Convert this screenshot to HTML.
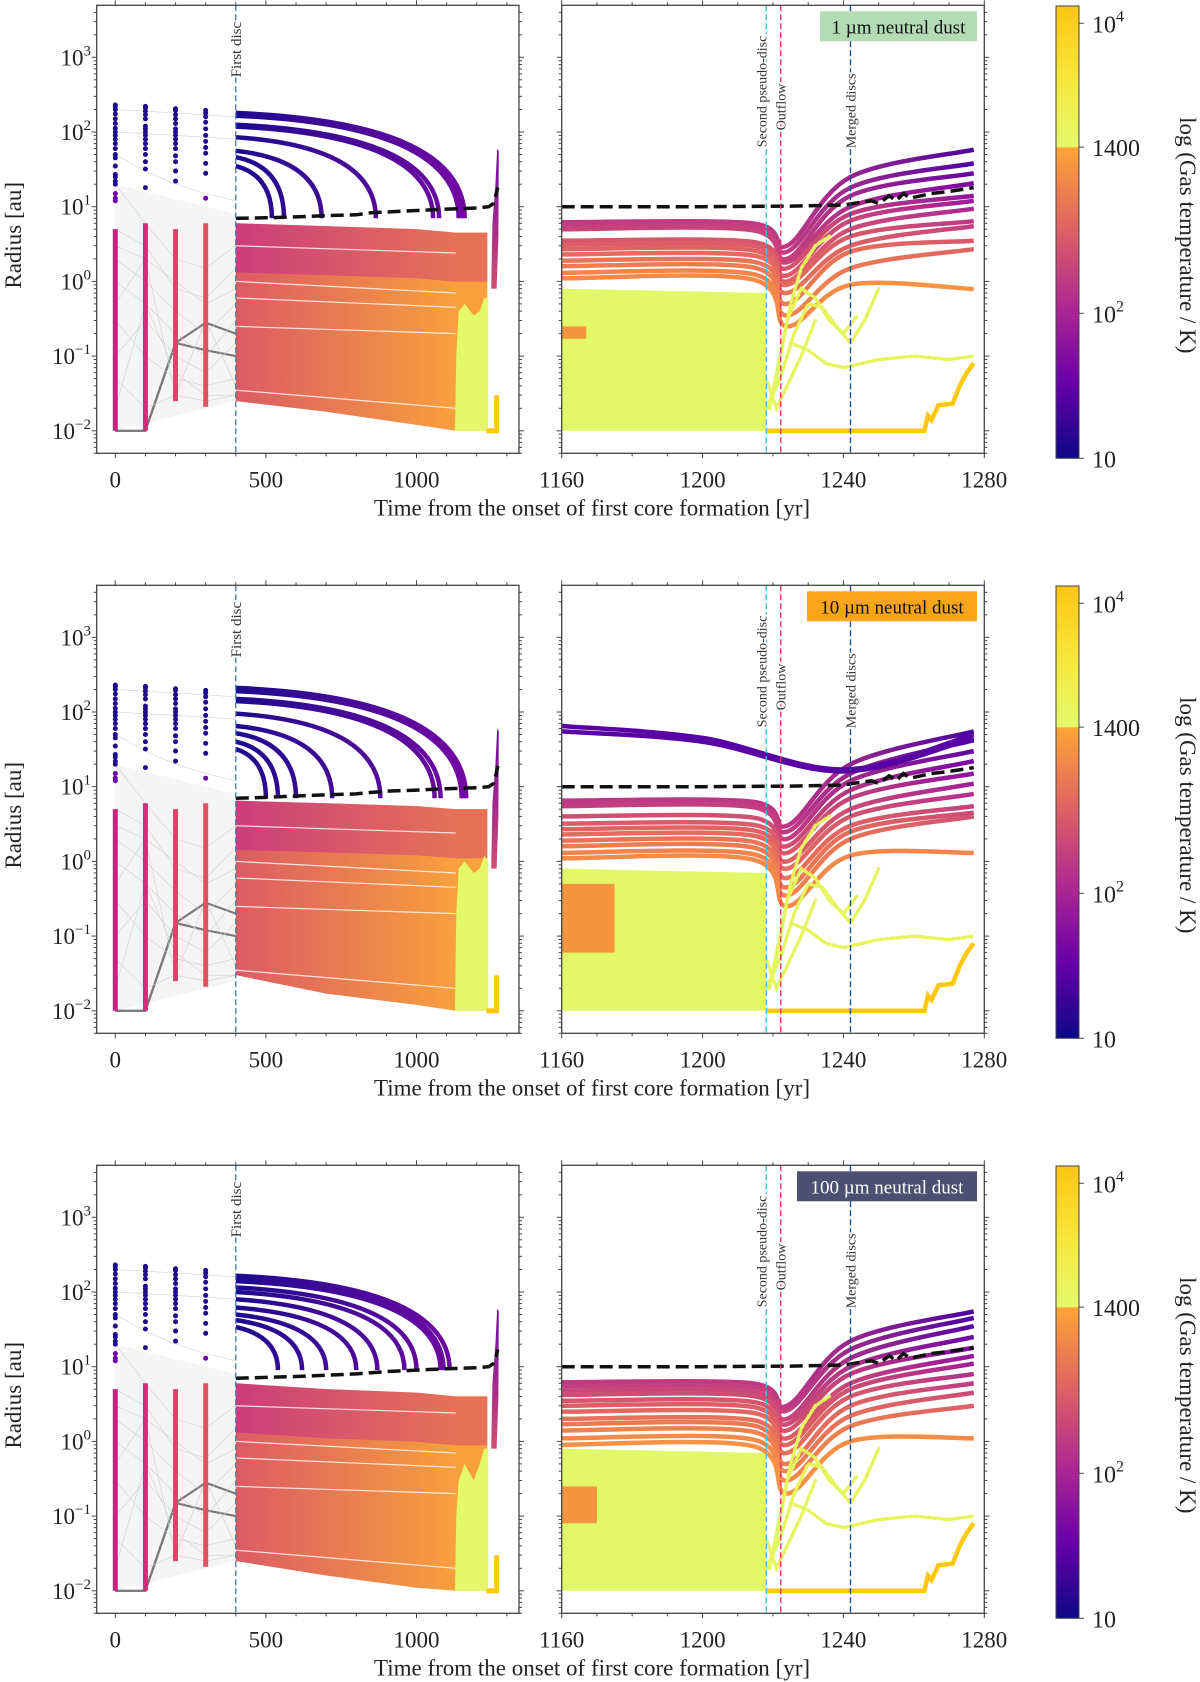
<!DOCTYPE html>
<html><head><meta charset="utf-8"><style>
html,body{margin:0;padding:0;background:#fff;}
svg{display:block;font-family:"Liberation Serif","DejaVu Serif",serif;}
</style></head><body>
<svg id="chart" width="1200" height="1682" xmlns="http://www.w3.org/2000/svg">
<defs>
<linearGradient id="bandGrad" gradientUnits="userSpaceOnUse" x1="236" y1="0" x2="456" y2="0"><stop offset="0" stop-color="#db5b65"/><stop offset="1" stop-color="#f8a03c"/></linearGradient>
<linearGradient id="upperGrad" gradientUnits="userSpaceOnUse" x1="236" y1="0" x2="456" y2="0"><stop offset="0" stop-color="#c8387f"/><stop offset="1" stop-color="#e26a5b"/></linearGradient>
<linearGradient id="arcGrad" gradientUnits="userSpaceOnUse" x1="236" y1="0" x2="500" y2="0"><stop offset="0" stop-color="#1d0b8e"/><stop offset="1" stop-color="#8008a6"/></linearGradient>
<linearGradient id="spikeGrad" x1="0" y1="1" x2="0" y2="0"><stop offset="0" stop-color="#d24f72"/><stop offset="1" stop-color="#6a02a6"/></linearGradient>
<linearGradient id="cbLow" x1="0" y1="1" x2="0" y2="0"><stop offset="0" stop-color="#0d0887"/><stop offset="0.25" stop-color="#6a00a8"/><stop offset="0.5" stop-color="#b12a90"/><stop offset="0.75" stop-color="#e16462"/><stop offset="1" stop-color="#fca636"/></linearGradient>
<linearGradient id="cbHigh" x1="0" y1="1" x2="0" y2="0"><stop offset="0" stop-color="#e3fa6c"/><stop offset="0.5" stop-color="#f8e63a"/><stop offset="1" stop-color="#fdc513"/></linearGradient>
</defs>
</svg>
<script>
const NS="http://www.w3.org/2000/svg";
const svg=document.getElementById('chart');
const rowTops=[5.3,585.3,1165.3];
const dustLabels=["1 µm neutral dust","10 µm neutral dust","100 µm neutral dust"];
const leftMajorTicks=[0,500,1000];
const rightMajorTicks=[1160,1200,1240,1280];
const yExponents=[-2,-1,0,1,2,3];
const cbarTickValues=[10,100,1400,10000];
const cbarTickLabels=[["10",""],["10","2"],["1400",""],["10","4"]];
const firstDiscTime=400;
const rightEventTimes=[1218.1,1222.2,1242];
const rightEventNames=["Second pseudo-disc","Outflow","Merged discs"];
const columnTimes=[0,100,200,300];
const columnBlueR=[[230,220,200,175,150,130,112,100,90,80,70,60,50,45,35,27,25,22,20,15,13,12],[220,210,190,170,150,120,110,100,90,80,70,60,50,40,32,18],[205,195,170,150,130,110,100,90,80,70,60,48,40,30,22],[195,180,160,135,110,90,75,62,52,38,28,13]];
const columnPinkLo=[0.01,0.01,0.025,0.021];
const columnPinkHi=[5,6,5,6];
const greyT=[0,100,200,300,400];
const greyR=[[0.01,0.01,0.15,0.28,0.2],[0.01,0.01,0.15,0.12,0.1],[3,2,1,0.5,0.8],[1,0.5,0.2,0.1,0.3],[0.3,0.1,0.05,0.04,0.05],[0.05,0.02,0.03,0.025,0.03],[20,6,2,1.5,3],[200,190,180,170,160],[100,95,90,85,80],[50,30,20,15,12],[0.02,0.5,0.06,0.03,0.03],[5,3,0.8,0.6,1.5],[0.1,0.3,0.1,0.06,0.15],[2,1,0.4,0.2,0.5],[0.5,2,0.03,0.3,0.04]];
const arcStartR=[[180,172,165,125,118,85,56,46,35],[210,200,190,150,140,95,65,52,40,32],[165,155,140,115,100,80,62,50,42,34]];
const arcEndT=[[1160,1150,1140,1075,1055,865,685,560,520],[1165,1155,1150,1080,1060,880,720,600,540,500],[1110,1090,1080,1000,960,870,800,700,620,540]];
const arcEndR=[7,7,9];
const dashLeftT=[400,500,600,700,800,850,900,1000,1100,1200,1240,1255,1265,1270];
const dashLeftR=[[7,7.1,7.3,7.6,7.8,8.3,8.5,8.9,9.3,9.6,10,11,15,18],[7,7.2,7.5,7.8,8,8.4,8.7,9,9.4,9.7,10,11,15,19],[7,7.2,7.4,7.7,8,8.3,8.6,9,9.4,9.7,10,11,14,17]];
const bandTopT=[400,700,1000,1130,1235];
const bandTopR=[[6,5.5,5,4.5,4.5],[6.5,6,5.5,5,5],[6,5,4.5,4,4]];
const bandBotT=[1235,1130,1000,700,400];
const bandBotR=[[0.01,0.01,0.012,0.018,0.025],[0.01,0.01,0.012,0.017,0.03],[0.01,0.01,0.011,0.016,0.025]];
const yellowLeftT=[1128,1132,1140,1160,1190,1210,1225,1238,1238];
const yellowLeftR=[[0.01,0.1,0.4,0.5,0.35,0.4,0.6,0.6,0.01],[0.01,0.2,0.8,1,0.7,0.8,1.2,1,0.01],[0.01,0.1,0.3,0.5,0.3,0.5,0.8,0.8,0.01]];
const rightTrackStartR=[[6.2,5.8,5.3,5,3.5,3.1,2.7,2.3,1.9,1.6,1.3,1.1],[6.5,6,5.5,4,3.2,2.7,2.3,1.9,1.6,1.3,1.1],[6.2,5.5,4.8,4.2,3.5,3,2.5,2,1.7,1.4,1.1,0.9]];
const rightTrackDipR=[[3,2.5,2,1.8,1.5,1.2,1,0.9,0.7,0.5,0.35,0.25],[3,2.5,2,1.6,1.3,1,0.8,0.6,0.45,0.35,0.25],[3,2.6,2,1.7,1.4,1.1,0.9,0.7,0.5,0.4,0.3,0.2]];
const rightTrackMidR=[[25,18,14,10,8,6.5,5,4,3,2.5,1.5,0.9],[20,15,12,9,7,5,4,3,2.5,2,1.2],[22,17,13,10,8,6,5,4,3,2.2,1.6,1]];
const rightTrackEndR=[[58,38,28,20.6,14,12,9.4,6.4,5.5,3.5,2.7,0.79],[55,42,30,22,15,11,8,5.5,4.5,4,1.3],[55,45,35,25,18,14,11,8,6,4.5,3,1.1]];
const purpleRightT=[1160,1200,1240,1277];
const purpleRightR=[[],[[65,45,17,50],[55,40,16,45]],[]];
const dashRightT=[1160,1200,1225,1240,1245,1248,1250,1253,1255,1257,1259,1262,1265,1270,1277];
const dashRightR=[10,10,10.2,10.5,11.5,12,11,14,12,15,13,14,15,16,18];
const goldT=[1218,1263,1264,1265,1267,1271,1273,1275,1277];
const goldR=[0.01,0.01,0.016,0.014,0.022,0.023,0.04,0.06,0.08];
const yellowTrackT=[[1218,1222,1226,1230,1234,1238,1242,1246,1250],[1225,1230,1235,1240,1250,1260,1270,1277],[1219,1222,1225,1228,1232,1236],[1220,1224,1228,1232,1236,1240,1244],[1218,1221,1224,1228,1232]];
const yellowTrackR=[[0.02,0.05,0.2,0.5,0.45,0.25,0.15,0.3,0.8],[0.15,0.12,0.08,0.07,0.09,0.1,0.09,0.1],[0.02,0.1,0.5,1.5,3,4],[0.03,0.3,0.8,0.6,0.3,0.2,0.35],[0.05,0.02,0.04,0.1,0.3]];
const orangePatchR=[[0.17,0.25,1167],[0.06,0.5,1175],[0.08,0.25,1170]];

function Y(row,r){return rowTops[row]+52+(3-Math.log10(r))*74.7;}
function XL(t){return 115.3+t*0.3012;}
function XR(t){return 561.7+(t-1160)*3.5217;}
function mk(tag,attrs,parent){const e=document.createElementNS(NS,tag);for(const k in attrs)e.setAttribute(k,attrs[k]);(parent||svg).appendChild(e);return e;}
function pathOf(X,row,ts,rs){return ts.map((t,i)=>(i?'L':'M')+X(t).toFixed(1)+','+Y(row,rs[i]).toFixed(1)).join('');}
function smoothOf(X,row,ts,rs){const P=ts.map((t,i)=>[X(t),Y(row,rs[i])]);let d='M'+P[0][0]+','+P[0][1];
  for(let i=0;i<P.length-1;i++){const p0=P[i-1]||P[i],p1=P[i],p2=P[i+1],p3=P[i+2]||p2;
    d+=' C'+(p1[0]+(p2[0]-p0[0])/6)+','+(p1[1]+(p2[1]-p0[1])/6)+' '+(p2[0]-(p3[0]-p1[0])/6)+','+(p2[1]-(p3[1]-p1[1])/6)+' '+p2[0]+','+p2[1];}
  return d;}
const cStops=[[40,[75,3,161]],[20,[126,3,168]],[10,[168,34,150]],[6,[192,58,131]],[3,[221,94,102]],[1.5,[240,127,79]],[0.8,[248,149,64]]];
function colR(r){if(r>=cStops[0][0])return 'rgb('+cStops[0][1]+')';for(let i=1;i<cStops.length;i++){if(r>=cStops[i][0]){const a=cStops[i-1],b=cStops[i];const f=(Math.log(a[0])-Math.log(r))/(Math.log(a[0])-Math.log(b[0]));return 'rgb('+a[1].map((v,k)=>Math.round(v+(b[1][k]-v)*f)).join(',')+')';}}return 'rgb('+cStops[cStops.length-1][1]+')';}
const defs=svg.querySelector('defs');

for(let row=0;row<3;row++){
  const top=rowTops[row],bot=top+448;
  const cl=mk('clipPath',{id:'cl'+row},defs);mk('rect',{x:96.7,y:top,width:422.3,height:448},cl);
  const cr=mk('clipPath',{id:'cr'+row},defs);mk('rect',{x:561.7,y:top,width:422.6,height:448},cr);
  const gl=mk('g',{'clip-path':'url(#cl'+row+')'});
  
  
  mk('polygon',{points:[[0,0.01],[0,20],[400,8],[400,0.025]].map(p=>XL(p[0])+','+Y(row,p[1])).join(' '),fill:'#f5f5f5'},gl);
  greyR.forEach((rs,i)=>{const p=mk('path',{d:pathOf(XL,row,greyT,rs),fill:'none',stroke:i<2?'#7a7a7a':'#d0d0d0','stroke-width':i<2?2.2:0.6},gl);
    
    });
  columnTimes.forEach((t,i)=>{
    const cols=['#c5257f','#cc2f7c','#d8456d','#de5264'];
    const ln=mk('line',{x1:XL(t),x2:XL(t),y1:Y(row,columnPinkLo[i]),y2:Y(row,columnPinkHi[i]),stroke:cols[i],'stroke-width':5},gl);
    
    
    columnBlueR[i].forEach(r=>{const c=mk('circle',{cx:XL(t),cy:Y(row,r),r:2.5,fill:r>15?'#1d0c8c':'#6a02a6'},gl);
      
      });
  });
  const bpts=bandTopT.map((t,i)=>[t,bandTopR[row][i]]).concat(bandBotT.map((t,i)=>[t,bandBotR[row][i]]));
  const band=mk('polygon',{points:bpts.map(p=>XL(p[0])+','+Y(row,p[1])).join(' '),fill:'url(#bandGrad)'},gl);
  
  
  const upts=bandTopT.map((t,i)=>[t,bandTopR[row][i]]).concat(bandBotT.map((t,i)=>[t,bandTopR[row][bandTopT.length-1-i]*0.22]));
  const up=mk('polygon',{points:upts.map(p=>XL(p[0])+','+Y(row,p[1])).join(' '),fill:'url(#upperGrad)',opacity:0.85},gl);
  
  
  [[1,0.7],[3,2.4],[0.25,0.2],[0.035,0.02],[0.6,0.45]].forEach(s=>{const w=mk('line',{x1:XL(400),y1:Y(row,s[0]),x2:XL(1130),y2:Y(row,s[1]),stroke:'#fff','stroke-width':1.2,opacity:0.8},gl);
    
    });
  const yl=mk('polygon',{points:yellowLeftT.map((t,i)=>XL(t)+','+Y(row,yellowLeftR[row][i])).join(' '),fill:'#e3f96a'},gl);
  
  
  const gd=mk('path',{d:pathOf(XL,row,[1232,1266,1266],[0.01,0.01,0.03]),stroke:'#fdc811','stroke-width':5,fill:'none'},gl);
  
  
  const sp=mk('polygon',{points:[[1248,0.8],[1252,6],[1262,20],[1268,60],[1273,55],[1272,4],[1266,0.8]].map(p=>XL(p[0])+','+Y(row,p[1])).join(' '),fill:'url(#spikeGrad)'},gl);
  
  
  arcStartR[row].forEach((r0,i)=>{const te=arcEndT[row][i],re=arcEndR[row];
    const d='M'+XL(400)+','+Y(row,r0)+' Q'+XL(te)+','+Y(row,r0*0.75)+' '+XL(te)+','+Y(row,re);
    const a=mk('path',{d:d,fill:'none',stroke:'url(#arcGrad)','stroke-width':4.5},gl);
    
    });
  const dl=mk('path',{d:pathOf(XL,row,dashLeftT,dashLeftR[row]),fill:'none',stroke:'#111','stroke-width':3.5,'stroke-dasharray':'13 6'},gl);
  
  
  const fd=mk('line',{x1:XL(firstDiscTime),x2:XL(firstDiscTime),y1:top,y2:bot,stroke:'#3b7bb3','stroke-width':1.3,'stroke-dasharray':'6 3'},gl);
  
  
  const fdt=mk('text',{x:0,y:0,transform:'translate('+(XL(400)+5)+','+(top+72)+') rotate(-90)','font-size':15,fill:'#333',stroke:'#fff','stroke-width':4,'paint-order':'stroke'});
  fdt.textContent='First disc';
  
  

  const gr=mk('g',{'clip-path':'url(#cr'+row+')'});
  
  
  const yb=mk('polygon',{points:[[1160,0.01],[1160,0.8],[1218,0.7],[1218,0.01]].map(p=>XR(p[0])+','+Y(row,p[1])).join(' '),fill:'#e3f868'},gr);
  
  
  const op=orangePatchR[row];
  const orr=mk('rect',{x:XR(1160),y:Y(row,op[1]),width:XR(op[2])-XR(1160),height:Y(row,op[0])-Y(row,op[1]),fill:'#f5963f'},gr);
  
  
  rightTrackStartR[row].forEach((r0,i)=>{
    const ts=[1160,1214,1224,1242,1277],rs=[r0,r0*0.97,rightTrackDipR[row][i],rightTrackMidR[row][i],rightTrackEndR[row][i]];
    const gid='tg'+row+'_'+i;const g=mk('linearGradient',{id:gid,gradientUnits:'userSpaceOnUse',x1:XR(1160),y1:0,x2:XR(1277),y2:0},defs);
    mk('stop',{offset:0,'stop-color':colR(r0)},g);mk('stop',{offset:0.55,'stop-color':colR(r0)},g);mk('stop',{offset:1,'stop-color':colR(rightTrackEndR[row][i])},g);
    const p=mk('path',{d:smoothOf(XR,row,ts,rs),fill:'none',stroke:'url(#'+gid+')','stroke-width':4.5,'stroke-linejoin':'round'},gr);
    
    });
  purpleRightR[row].forEach(rs=>{const p=mk('path',{d:smoothOf(XR,row,purpleRightT,rs),fill:'none',stroke:'#5a03a5','stroke-width':4.5},gr);
    
    });
  yellowTrackT.forEach((ts,i)=>{const p=mk('path',{d:pathOf(XR,row,ts,yellowTrackR[i]),fill:'none',stroke:'#e6f55c','stroke-width':3.5,'stroke-dasharray':'3 3','stroke-linecap':'round'},gr);
    
    });
  const gp=mk('path',{d:pathOf(XR,row,goldT,goldR),fill:'none',stroke:'#fdc80f','stroke-width':4.5},gr);
  
  
  const dr=mk('path',{d:pathOf(XR,row,dashRightT,dashRightR),fill:'none',stroke:'#111','stroke-width':3.5,'stroke-dasharray':'13 6'},gr);
  
  
  const evCols=['#4fb8ea','#e0336b','#1f4f8e'];const evEnds=[142,125,143];
  rightEventTimes.forEach((t,i)=>{
    const l=mk('line',{x1:XR(t),x2:XR(t),y1:top,y2:bot,stroke:evCols[i],'stroke-width':1.4,'stroke-dasharray':'6 3'},gr);
    
    
    const tx=mk('text',{x:0,y:0,transform:'translate('+(XR(t)+5-(i==0?5:0))+','+(top+evEnds[i])+') rotate(-90)','font-size':14,fill:'#333',stroke:'#fff','stroke-width':4,'paint-order':'stroke'},gr);
    tx.textContent=rightEventNames[i];
    
    });
  const bw=[157,170,180][row];
  const lb=mk('rect',{x:977-bw,y:top+6,width:bw,height:30,fill:['#b3dbb5','#f9a51c','#4b4f72'][row]});
  
  
  const lt=mk('text',{x:977-bw/2,y:top+28,'text-anchor':'middle','font-size':19,fill:row==2?'#fff':'#111'});
  lt.textContent=dustLabels[row];
  
  

  [[96.7,519],[561.7,984.3]].forEach((xx,pi)=>{
    const fr=mk('rect',{x:xx[0],y:top,width:xx[1]-xx[0],height:448,fill:'none',stroke:'#444','stroke-width':1.3});
    
    
    for(let e=-3;e<=3;e++){for(let m=1;m<10;m++){const v=m*Math.pow(10,e);const yy=Y(row,v);if(yy<top||yy>bot)continue;const L=m==1?5:3;
      mk('line',{x1:xx[0]-L,x2:xx[0],y1:yy,y2:yy,stroke:'#444','stroke-width':1});mk('line',{x1:xx[1],x2:xx[1]+L,y1:yy,y2:yy,stroke:'#444','stroke-width':1});}}
  });
  for(let t=0;t<=1300;t+=100){const x=XL(t),L=t%500==0?5:3;mk('line',{x1:x,x2:x,y1:bot,y2:bot+L,stroke:'#444'});mk('line',{x1:x,x2:x,y1:top-L,y2:top,stroke:'#444'});}
  for(let t=1160;t<=1280;t+=10){const x=XR(t),L=t%40==0?5:3;mk('line',{x1:x,x2:x,y1:bot,y2:bot+L,stroke:'#444'});mk('line',{x1:x,x2:x,y1:top-L,y2:top,stroke:'#444'});}
  leftMajorTicks.forEach(t=>{const tx=mk('text',{x:XL(t),y:bot+34,'text-anchor':'middle','font-size':23,fill:'#222'});tx.textContent=String(t);
    
    });
  rightMajorTicks.forEach(t=>{const tx=mk('text',{x:XR(t),y:bot+34,'text-anchor':'middle','font-size':23,fill:'#222'});tx.textContent=String(t);
    
    });
  yExponents.forEach(e=>{const tx=mk('text',{x:91,y:Y(row,Math.pow(10,e))+8,'text-anchor':'end','font-size':23,fill:'#222'});
    const a=mk('tspan',{},tx);a.textContent='10';const b=mk('tspan',{dy:-10,'font-size':15},tx);b.textContent=e<0?'−'+(-e):String(e);
    
    });
  const xt=mk('text',{x:592,y:bot+62,'text-anchor':'middle','font-size':23,fill:'#222'});xt.textContent='Time from the onset of first core formation [yr]';
  
  
  const ytl=mk('text',{x:0,y:0,transform:'translate(21,'+(top+230)+') rotate(-90)','text-anchor':'middle','font-size':23,fill:'#222'});ytl.textContent='Radius [au]';
  
  

  const cy=v=>top+308-(Math.log10(v)-2)*145;
  const c1=mk('rect',{x:1056,y:cy(1400),width:23,height:cy(10)-cy(1400),fill:'url(#cbLow)'});
  
  
  const c2=mk('rect',{x:1056,y:top+0.7,width:23,height:cy(1400)-top-0.7,fill:'url(#cbHigh)'});
  
  
  mk('rect',{x:1056,y:top+0.7,width:23,height:cy(10)-top-0.7,fill:'none',stroke:'#444','stroke-width':1});
  cbarTickValues.forEach((v,i)=>{mk('line',{x1:1079,x2:1084,y1:cy(v),y2:cy(v),stroke:'#444'});
    const tx=mk('text',{x:1092,y:cy(v)+9,'font-size':24,fill:'#222'});const a=mk('tspan',{},tx);a.textContent=cbarTickLabels[i][0];
    if(cbarTickLabels[i][1]){const b=mk('tspan',{dy:-11,'font-size':16},tx);b.textContent=cbarTickLabels[i][1];}
    
    });
  const ct=mk('text',{x:0,y:0,transform:'translate(1180,'+(top+230)+') rotate(90)','text-anchor':'middle','font-size':23,fill:'#222'});ct.textContent='log (Gas temperature / K)';
  
  
}
</script>
</body></html>
